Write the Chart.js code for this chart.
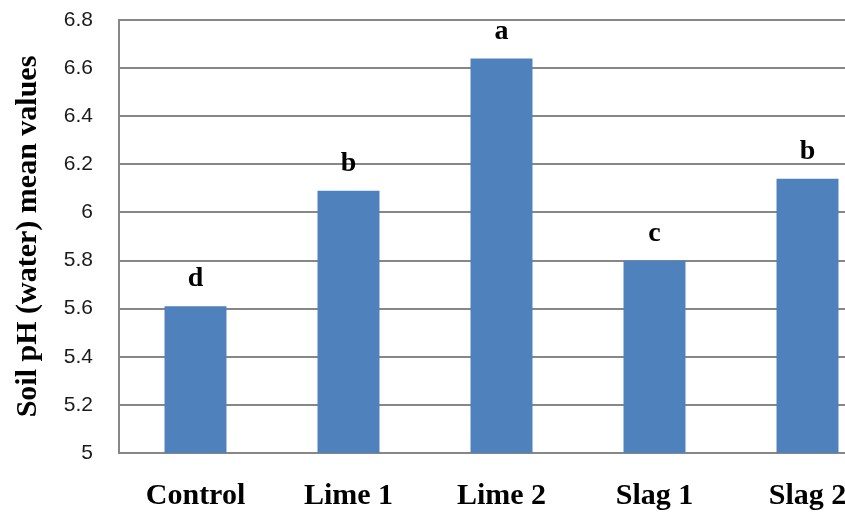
<!DOCTYPE html>
<html>
<head>
<meta charset="utf-8">
<script src="https://cdn.jsdelivr.net/npm/chart.js@4"></script>
<style>
  html, body { margin: 0; padding: 0; background: #fff; overflow: hidden; }
  #wrap { width: 884px; height: 514px; }
</style>
</head>
<body>
<div id="wrap"><canvas id="phChart" width="884" height="514"></canvas></div>
<script>
const categories = ['Control', 'Lime 1', 'Lime 2', 'Slag 1', 'Slag 2'];
const phMeans = [5.61, 6.09, 6.64, 5.80, 6.14];
const groupLetters = ['d', 'b', 'a', 'c', 'b'];

const gridColor = '#878787';
const serifBold = { family: '"Liberation Serif", "Times New Roman", serif', weight: 'bold' };

// draws the significance letters above each bar
const letterPlugin = {
  id: 'letters',
  afterDatasetsDraw(chart) {
    const ctx = chart.ctx;
    const meta = chart.getDatasetMeta(0);
    ctx.save();
    ctx.font = 'bold 28px "Liberation Serif", "Times New Roman", serif';
    ctx.fillStyle = '#000';
    ctx.textAlign = 'center';
    ctx.textBaseline = 'middle';
    meta.data.forEach((bar, i) => {
      ctx.fillText(groupLetters[i], bar.x, bar.y - 27);
    });
    ctx.restore();
  },
};

new Chart(document.getElementById('phChart'), {
  type: 'bar',
  data: {
    labels: categories,
    datasets: [
      {
        data: phMeans,
        backgroundColor: '#4f81bd',
        borderWidth: 0,
        categoryPercentage: 1,
        barPercentage: 0.405,
      },
    ],
  },
  options: {
    responsive: false,
    animation: false,
    layout: { padding: { top: 20, right: 0, left: 0, bottom: 0 } },
    plugins: {
      legend: { display: false },
      tooltip: { enabled: false },
    },
    scales: {
      y: {
        min: 5,
        max: 6.8,
        afterFit: (scale) => {
          scale.width = 119;
          scale.paddingTop = 0;
          scale.paddingBottom = 0;
        },
        ticks: {
          stepSize: 0.2,
          padding: 26,
          color: '#1a1a1a',
          font: { family: '"Liberation Sans", Arial, sans-serif', size: 21 },
          callback: (v) => parseFloat(v.toFixed(1)).toString(),
        },
        grid: { color: gridColor, lineWidth: 2, drawTicks: false },
        border: { display: true, color: gridColor, width: 2 },
        title: {
          display: true,
          text: 'Soil pH (water) mean values',
          color: '#000',
          font: { ...serifBold, size: 30, lineHeight: 1 },
          padding: { top: 13, bottom: 0 },
        },
      },
      x: {
        afterFit: (scale) => { scale.height = 61; },
        ticks: {
          padding: 25,
          color: '#000',
          font: { ...serifBold, size: 30 },
        },
        grid: { display: false, drawTicks: false },
        border: { display: true, color: gridColor, width: 2 },
      },
    },
  },
  plugins: [letterPlugin],
});
</script>
</body>
</html>
